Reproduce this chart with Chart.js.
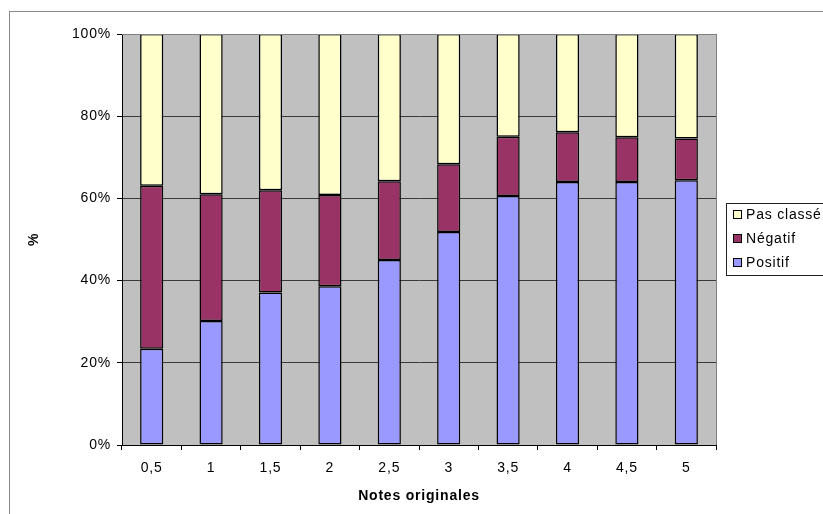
<!DOCTYPE html>
<html>
<head>
<meta charset="utf-8">
<script src="https://cdn.jsdelivr.net/npm/chart.js@4"></script>
<style>
html,body{margin:0;padding:0;background:#fff;}
#wrap{position:relative;width:823px;height:514px;}
</style>
</head>
<body>
<div id="wrap"><canvas id="c" width="823" height="514"></canvas></div>
<script>
const categories = ["0,5","1","1,5","2","2,5","3","3,5","4","4,5","5"];
const positif = [23.4, 30.2, 37.1, 38.6, 45.0, 51.8, 60.6, 64.0, 64.0, 64.4];
const negatif = [39.7, 30.8, 24.9, 22.2, 19.2, 16.5, 14.4, 12.1, 10.9, 10.2];
const pasClasse = [36.9, 39.0, 38.0, 39.2, 35.8, 31.7, 25.0, 23.9, 25.1, 25.4];
const seriesNames = ["Positif", "Négatif", "Pas classé"];
const seriesColors = ["#9999FF", "#993366", "#FFFFCC"];
const yTicks = [0, 20, 40, 60, 80, 100];
const xTitle = "Notes originales";
const yTitle = "%";

Chart.defaults.font.family = '"Liberation Sans", Arial, sans-serif';
Chart.defaults.font.size = 14;
Chart.defaults.color = '#000';

const LS = '0.8px';

const framePlugin = {
  id: 'frame',
  beforeInit(chart) {
    chart.ctx.letterSpacing = LS;
  },
  beforeDraw(chart) {
    const ctx = chart.ctx, a = chart.chartArea;
    ctx.letterSpacing = LS;
    ctx.save();
    ctx.fillStyle = '#fff';
    ctx.fillRect(0, 0, chart.width, chart.height);
    ctx.strokeStyle = '#8a8a8a';
    ctx.lineWidth = 1;
    ctx.strokeRect(9.5, 11.5, 1000, 1000);
    ctx.fillStyle = '#C0C0C0';
    ctx.fillRect(a.left, a.top, a.right - a.left, a.bottom - a.top);
    ctx.restore();
  },
  afterDraw(chart) {
    const ctx = chart.ctx, a = chart.chartArea;
    ctx.save();
    ctx.strokeStyle = '#808080';
    ctx.lineWidth = 1;
    ctx.beginPath();
    ctx.moveTo(a.right + 0.5, a.top);
    ctx.lineTo(a.right + 0.5, a.bottom);
    ctx.moveTo(a.left, a.top + 0.5);
    ctx.lineTo(a.right, a.top + 0.5);
    ctx.stroke();
    // legend
    const lx = 726.5, ly = 203.5, lw = 200, lh = 72;
    ctx.fillStyle = '#fff';
    ctx.fillRect(lx, ly, lw, lh);
    ctx.strokeStyle = '#222';
    ctx.strokeRect(lx, ly, lw, lh);
    ctx.font = '14px "Liberation Sans", Arial, sans-serif';
    ctx.letterSpacing = LS;
    ctx.textBaseline = 'middle';
    const ds = chart.data.datasets;
    const order = [2, 1, 0];
    order.forEach((idx, i) => {
      const cy = 215 + i * 24;
      ctx.fillStyle = ds[idx].backgroundColor;
      ctx.fillRect(733.5, cy - 4.5, 8, 8);
      ctx.strokeStyle = '#000';
      ctx.strokeRect(733.5, cy - 4.5, 8, 8);
      ctx.fillStyle = '#000';
      ctx.fillText(ds[idx].label, 746, cy);
    });
    ctx.restore();
  }
};

const datasetsData = [positif, negatif, pasClasse];
new Chart(document.getElementById('c'), {
  type: 'bar',
  data: {
    labels: categories,
    datasets: datasetsData.map((d, i) => ({
      label: seriesNames[i],
      data: d,
      backgroundColor: seriesColors[i],
      borderColor: '#000',
      borderWidth: 1.5,
      borderSkipped: false,
      barPercentage: 0.39,
      categoryPercentage: 1
    }))
  },
  options: {
    responsive: false,
    animation: false,
    devicePixelRatio: 1,
    layout: { padding: { left: 0, right: 107, top: 34, bottom: 0 } },
    plugins: { legend: { display: false }, tooltip: { enabled: false } },
    scales: {
      x: {
        stacked: true,
        afterFit(s) { s.height = 69; },
        grid: { display: true, drawOnChartArea: false, tickLength: 5, color: '#000', offset: true },
        border: { color: '#000' },
        ticks: { padding: 10, color: '#000', font: { size: 14 } },
        title: { display: true, text: xTitle, font: { size: 14, weight: 'bold' }, padding: { top: 4, bottom: 9 } }
      },
      y: {
        stacked: true,
        min: 0, max: 100,
        afterFit(s) { s.width = 122; },
        afterBuildTicks(s) { s.ticks = yTicks.map(v => ({ value: v })); },
        grid: { color: '#3a3a3a', tickLength: 5, tickColor: '#000' },
        border: { color: '#000' },
        ticks: { padding: 6, color: '#000', font: { size: 14 }, callback: v => v + '%' },
        title: { display: true, text: yTitle, font: { size: 14, weight: 'bold' }, padding: { top: 26, bottom: 0 } }
      }
    }
  },
  plugins: [framePlugin]
});
</script>
</body>
</html>
